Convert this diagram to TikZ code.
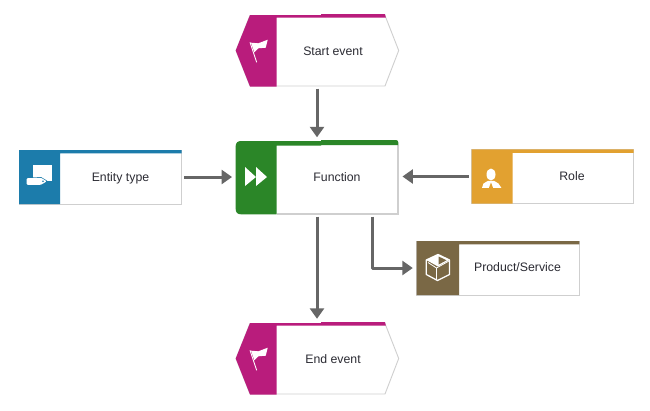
\documentclass[tikz,border=0pt]{standalone}
\usepackage{fontspec}
\setmainfont{Liberation Sans}
\usetikzlibrary{arrows.meta}
\definecolor{evtc}{HTML}{B91C7C}
\definecolor{fnc}{HTML}{2B8628}
\definecolor{entc}{HTML}{1C7CAB}
\definecolor{rolec}{HTML}{E2A130}
\definecolor{prodc}{HTML}{7A6845}
\definecolor{linkc}{HTML}{666666}
\definecolor{edgec}{HTML}{CFCFCF}
\definecolor{textc}{HTML}{2B2B33}
\tikzset{
  x=1pt,y=-1pt,
  frame/.style={rectangle,inner sep=0pt,minimum width=#1},
  frame/.default=162.5,
  card/.style={frame,draw=edgec,line width=0.9pt,fill=white,minimum height=54},
  ghost/.style={frame,minimum height=72},
  lab/.style={inner sep=0pt,text=textc,text height=9pt,text depth=3pt,font=\fontsize{12.3}{14}\selectfont},
  link/.style={draw=linkc,line width=3pt,-{Triangle[length=10.5pt,width=14pt]},line join=round},
  iconw/.style={fill=white,draw=none}
}
\begin{document}
\begin{tikzpicture}
\useasboundingbox (0,0) rectangle (650,410);
\fill[white] (0,0) rectangle (650,410);

% ---- Start event
\node[ghost] (start) at (317,50.5) {};
\filldraw[fill=white,draw=edgec,line width=0.9pt] (250,15.5)--(385,15.5)--(398.7,50.5)--(385,86)--(250,86)--(236,50.5)--cycle;
\fill[evtc] (250,15)--(321,15)--(321,14)--(385,14)--(385.8,17.5)--(276.7,17.5)--(276.7,86.5)--(250,86.5)--(235.7,50.5)--cycle;
\node[lab] (startL) at (333,52.2) {Start event};
\draw[white,line width=0.9pt] (250,42.3)--(256.7,62.3);
\fill[iconw] (251,42.7)--(258.3,43.3)--(267.7,39.7)--(265.7,47.7)--(258.3,48.3)--(254.3,52.3)--cycle;

% ---- End event
\node[ghost] (end) at (317,358.5) {};
\filldraw[fill=white,draw=edgec,line width=0.9pt] (250,323.5)--(385,323.5)--(398.7,358.5)--(385,394)--(250,394)--(236,358.5)--cycle;
\fill[evtc] (250,323)--(321,323)--(321,322)--(385,322)--(385.8,325.5)--(276.7,325.5)--(276.7,394.5)--(250,394.5)--(235.7,358.5)--cycle;
\node[lab] (endL) at (333,360.2) {End event};
\draw[white,line width=0.9pt] (250,350.3)--(256.7,370.3);
\fill[iconw] (251,350.7)--(258.3,351.3)--(267.7,347.7)--(265.7,355.7)--(258.3,356.3)--(254.3,360.3)--cycle;

% ---- Function
\node[frame,minimum height=74] (fn) at (317,177.5) {};
\fill[white] (276.7,145) rectangle (398,213.7);
\draw[edgec,line width=1.4pt] (276.7,213.8)--(398,213.8)--(398,145);
\fill[fnc] (241,141)--(321,141)--(321,140)--(396,140)
  .. controls (397.5,140) and (398.3,141) .. (398.3,142.5)
  --(398.3,145)--(321,145)--(321,145.7)--(276.7,145.7)--(276.7,214.3)--(241,214.3)
  .. controls (237.5,214.3) and (235.7,212.5) .. (235.7,209)
  --(235.7,146)
  .. controls (235.7,142.8) and (237.8,141) .. (241,141)--cycle;
\node[lab] (fnL) at (337,178.2) {Function};
\fill[iconw] (245,167)--(256,177)--(245,186)--cycle;
\fill[iconw] (256,167)--(267,177)--(256,186)--cycle;

% ---- Entity type
\node[card] (ent) at (100.3,177) {};
\fill[entc] (19,150)rectangle(181.7,153.3) (19,150)rectangle(60,204);
\node[lab] (entL) at (120.5,178.2) {Entity type};
\fill[iconw] (33.3,165.3)rectangle(51.7,181.3);
\draw[entc,line width=1.4pt,line join=round] (27.5,178.3)--(41,177.8)--(46.7,181.3)--(41,184.8)--(27.5,184.8)--cycle;
\fill[iconw,rounded corners=1pt] (26.7,178.2)--(41,177.8)--(46.7,181.3)--(41,184.8)--(26.7,184.8)--cycle;
\fill[entc] (43,181.2) circle (0.9);

% ---- Role
\node[card] (role) at (552.5,176.5) {};
\fill[rolec] (471.5,149.3)rectangle(633.5,152.8) (471.5,149.3)rectangle(512.7,203.5);
\node[lab] (roleL) at (572,177.7) {Role};
\fill[iconw] (491,174.5) ellipse (4.5 and 6);
\fill[iconw] (482,187.8)--(483.5,183.5)--(488,180.8)--(494,180.8)--(498.5,183.5)--(501.3,187.8)--cycle;
\fill[rolec] (491,182.5)--(489,187.8)--(493,187.8)--cycle;

% ---- Product/Service
\node[card] (prod) at (498,268) {};
\fill[prodc] (416.7,241)rectangle(579.3,244.3) (416.7,241)rectangle(459,295);
\node[lab] (prodL) at (517.5,268.8) {Product/Service};
\draw[white,line width=1.3pt,line join=round] (438,254.5)--(449.5,260)--(449.5,274.5)--(437.5,280.5)--(426.3,274.5)--(426.3,260)--cycle;
\fill[iconw] (426.3,260)--(438,254.5)--(449.5,260)--(438,266.5)--cycle;
\fill[prodc] (438.7,256.5)--(446.5,260.3)--(438.7,264.5)--cycle;
\draw[white,line width=0.8pt,line join=round] (428,262.5)--(436.5,268)--(436.5,279.5) (436.5,268)--(449,261);

% ---- Connectors
\draw[link,shorten >=3pt,shorten <=2pt] (start.south) -- (fn.north);
\draw[link,shorten >=3.5pt,shorten <=2pt] (ent.east) -- (ent.east -| fn.west);
\draw[link,shorten >=4pt,shorten <=2pt] (role.west) -- (role.west -| fn.east);
\draw[link,shorten >=3.5pt,shorten <=2pt] (fn.south) -- (end.north);
\draw[link,shorten >=3.5pt,shorten <=2pt] ([xshift=55]fn.south) |- (prod.west);
\end{tikzpicture}
\end{document}
